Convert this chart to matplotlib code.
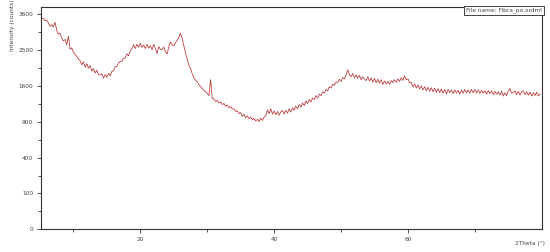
import numpy as np
import matplotlib
matplotlib.use("Agg")
import matplotlib.pyplot as plt
from matplotlib.ticker import FixedLocator

# scan grid (degrees 2theta)
SCAN_START = 5.0
SCAN_STEP = 0.25

# counts, one row per 5 degrees
counts = [
    3520, 3440, 3460, 3380, 3400, 3310, 3200, 3260, 3180, 3330, 3080, 2960, 2990, 2840, 2760, 2800, 2640, 2900, 2520, 2560,
    2430, 2380, 2320, 2250, 2210, 2100, 2180, 2040, 2130, 2020, 2090, 1940, 2010, 1900, 1970, 1860, 1850, 1880, 1780, 1860,
    1800, 1890, 1830, 1940, 1950, 2060, 2060, 2150, 2190, 2200, 2280, 2280, 2390, 2340, 2480, 2540, 2650, 2540, 2660, 2580,
    2690, 2570, 2640, 2540, 2660, 2550, 2620, 2510, 2660, 2540, 2400, 2590, 2520, 2510, 2580, 2450, 2390, 2580, 2730, 2640,
    2620, 2700, 2780, 2860, 2990, 2850, 2620, 2420, 2250, 2100, 2010, 1880, 1790, 1720, 1700, 1620, 1590, 1540, 1500, 1470,
    1440, 1390, 1740, 1330, 1320, 1270, 1290, 1240, 1260, 1210, 1230, 1180, 1200, 1150, 1170, 1120, 1130, 1080, 1090, 1040,
    1060, 990, 1030, 970, 1000, 950, 980, 930, 960, 910, 940, 900, 960, 920, 980, 1000, 1110, 1040, 1130, 1030,
    1090, 1020, 1080, 1010, 1070, 1100, 1030, 1100, 1050, 1130, 1070, 1150, 1100, 1180, 1130, 1210, 1160, 1240, 1190, 1280,
    1230, 1310, 1260, 1340, 1310, 1390, 1340, 1420, 1390, 1470, 1440, 1520, 1490, 1580, 1550, 1640, 1610, 1690, 1670, 1750,
    1700, 1790, 1760, 1850, 1980, 1850, 1810, 1890, 1780, 1850, 1770, 1840, 1740, 1810, 1750, 1720, 1810, 1710, 1780, 1680,
    1770, 1670, 1750, 1660, 1740, 1630, 1710, 1640, 1700, 1630, 1720, 1670, 1740, 1680, 1760, 1700, 1790, 1720, 1830, 1740,
    1760, 1670, 1680, 1570, 1640, 1550, 1620, 1530, 1600, 1510, 1580, 1490, 1570, 1480, 1560, 1470, 1550, 1460, 1540, 1450,
    1530, 1440, 1520, 1420, 1520, 1450, 1510, 1430, 1510, 1440, 1500, 1420, 1510, 1440, 1520, 1450, 1510, 1440, 1520, 1450,
    1520, 1440, 1510, 1430, 1500, 1440, 1490, 1420, 1500, 1430, 1490, 1410, 1480, 1420, 1470, 1400, 1480, 1380, 1450, 1390,
    1490, 1540, 1440, 1460, 1490, 1410, 1480, 1400, 1470, 1490, 1410, 1470, 1400, 1460, 1380, 1450, 1390, 1460, 1380, 1430,
]
twotheta = SCAN_START + SCAN_STEP * np.arange(len(counts))

x_major = [20, 40, 60]
x_minor = [10, 30, 50, 70]
y_major = [0, 100, 400, 900, 1600, 2500, 3600]
y_minor = [25, 225, 625, 1225, 2025, 3025]

TXT = '#444444'

fig = plt.figure(figsize=(5.5, 2.52), dpi=100)
ax = fig.add_axes([0.0745, 0.090, 0.9105, 0.881])

ax.plot(twotheta, counts, color='#b83232', lw=0.55)

# sqrt intensity axis
ax.set_yscale('function', functions=(lambda v: np.sqrt(np.clip(v, 0, None)), np.square))
ax.set_xlim(5.15, 80.0)
ax.set_ylim(0, 3830)

ax.xaxis.set_major_locator(FixedLocator(x_major))
ax.xaxis.set_minor_locator(FixedLocator(x_minor))
ax.yaxis.set_major_locator(FixedLocator(y_major))
ax.yaxis.set_minor_locator(FixedLocator(y_minor))
ax.set_yticklabels([str(v) for v in y_major])
ax.set_xticklabels([str(v) for v in x_major])

ax.tick_params(which='major', length=3, width=0.6, labelsize=4.2, colors='#333333', labelcolor=TXT, pad=2.5)
ax.tick_params(which='minor', length=2, width=0.6, colors='#333333')

for s in ax.spines.values():
    s.set_linewidth(0.8)
    s.set_color('#333333')

ax.text(0.9995, 0.9985, 'File name: Fibra_po.xrdml', transform=ax.transAxes,
        ha='right', va='top', fontsize=4.2, color=TXT,
        bbox=dict(boxstyle='square,pad=0.35', fc='white', ec='#222222', lw=0.6))

fig.text(0.022, 1 - 25 / 252, 'Intensity (counts)', rotation=90, ha='center', va='center',
         fontsize=4.2, color=TXT)
fig.text(530 / 550, 1 - 243 / 252, '2Theta (°)', ha='center', va='center', fontsize=4.2, color=TXT)

fig.savefig('out.png', dpi=100)
